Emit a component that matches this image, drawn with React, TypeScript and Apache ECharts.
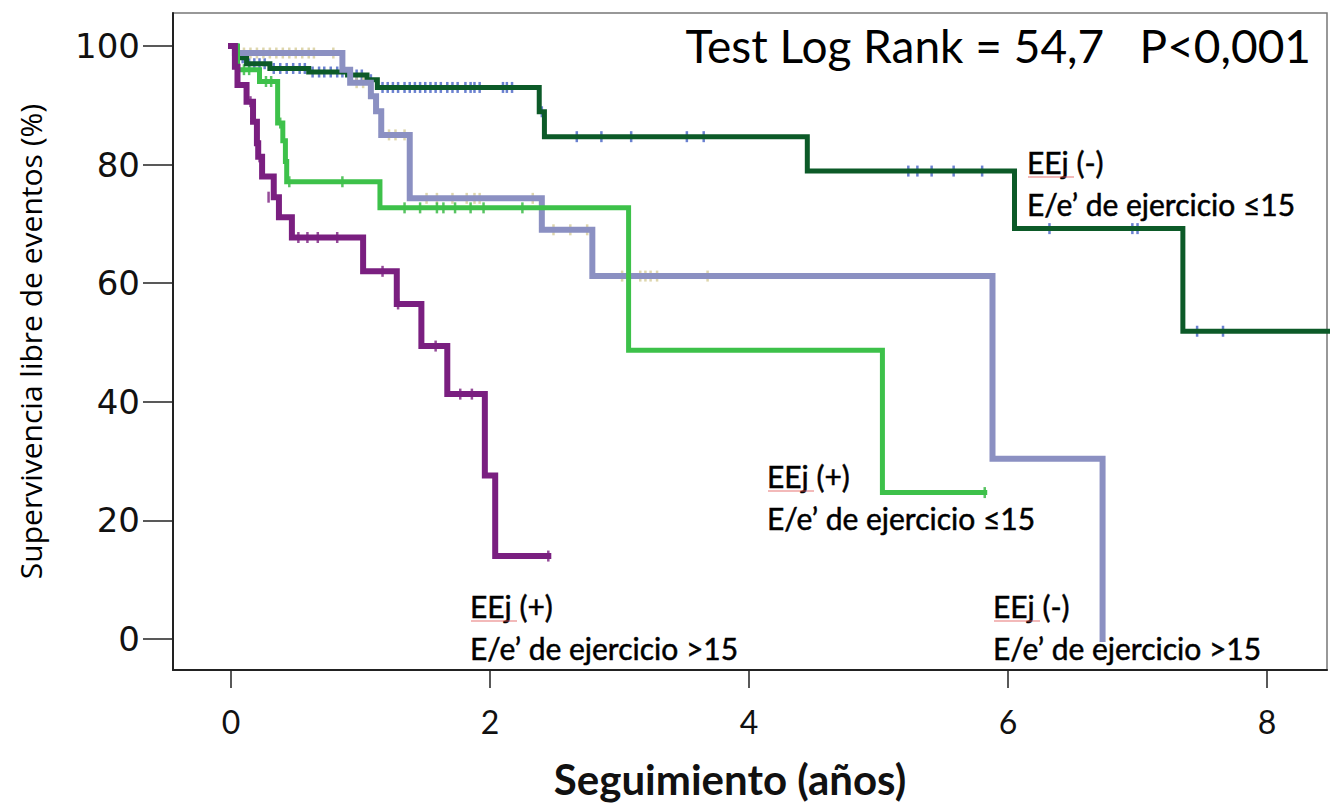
import React, { useEffect, useRef } from "react";
import * as echarts from "echarts";

type Pt = [number, number];

const xTicks = [0, 2, 4, 6, 8];
const yTicks = [0, 20, 40, 60, 80, 100];

// EEj (-) · E/e' de ejercicio ≤15
const negLowSteps: Pt[] = [
  [0, 100], [0.04, 98], [0.12, 97], [0.3, 96.2], [0.6, 95.6], [0.9, 95.1], [1.05, 94.3],
  [1.13, 93], [2.38, 88.9], [2.42, 84.7], [4.45, 78.9], [6.05, 69.2], [7.35, 51.9], [8.47, 51.9],
];
const negLowCensor: Pt[] = [
  [0.02, 98], [0.06, 98], [0.09, 98],
  [0.14, 97], [0.18, 97], [0.22, 97], [0.26, 97],
  [0.33, 96.2], [0.38, 96.2], [0.43, 96.2], [0.48, 96.2], [0.53, 96.2], [0.57, 96.2],
  [0.63, 95.6], [0.68, 95.6], [0.72, 95.6], [0.77, 95.6], [0.82, 95.6], [0.86, 95.6],
  [0.92, 95.1], [0.97, 95.1], [1.01, 95.1], [1.08, 94.3],
  [1.17, 93], [1.21, 93], [1.25, 93], [1.29, 93], [1.34, 93], [1.38, 93], [1.42, 93], [1.46, 93],
  [1.5, 93], [1.54, 93], [1.58, 93], [1.62, 93], [1.67, 93], [1.71, 93], [1.75, 93], [1.81, 93],
  [1.85, 93], [1.88, 93], [1.92, 93], [2.1, 93], [2.13, 93], [2.17, 93],
  [2.4, 88.9],
  [2.67, 84.7], [2.86, 84.7], [3.09, 84.7], [3.52, 84.7], [3.65, 84.7],
  [5.23, 78.9], [5.3, 78.9], [5.41, 78.9], [5.58, 78.9], [5.8, 78.9],
  [6.32, 69.2], [6.96, 69.2], [7.0, 69.2],
  [7.46, 51.9], [7.66, 51.9],
];

// EEj (-) · E/e' de ejercicio >15
const negHighSteps: Pt[] = [
  [0, 100], [0.03, 98.8], [0.86, 96], [0.92, 93.8], [1.08, 91.5], [1.12, 89], [1.16, 85],
  [1.38, 74.3], [2.4, 69], [2.79, 61.2], [5.88, 30.4], [6.73, 0],
];
const negHighCensor: Pt[] = [
  [0.06, 98.8], [0.1, 98.8], [0.15, 98.8], [0.2, 98.8], [0.25, 98.8], [0.3, 98.8], [0.35, 98.8],
  [0.4, 98.8], [0.45, 98.8], [0.5, 98.8], [0.55, 98.8], [0.6, 98.8], [0.64, 98.8], [0.79, 98.8],
  [0.97, 93.8], [1.02, 93.8],
  [1.22, 85], [1.27, 85], [1.34, 85],
  [1.51, 74.3], [1.59, 74.3], [1.71, 74.3], [1.82, 74.3], [1.88, 74.3], [1.92, 74.3], [2.33, 74.3],
  [2.49, 69], [2.62, 69], [2.75, 69],
  [3.02, 61.2], [3.16, 61.2], [3.2, 61.2], [3.24, 61.2], [3.29, 61.2], [3.68, 61.2],
];

// EEj (+) · E/e' de ejercicio ≤15
const posLowSteps: Pt[] = [
  [0, 100], [0.05, 96], [0.22, 94], [0.36, 87], [0.4, 84], [0.42, 80.5], [0.43, 77.1],
  [1.15, 72.7], [3.07, 48.7], [5.03, 24.7], [5.82, 24.7],
];
const posLowCensor: Pt[] = [
  [0.1, 96], [0.14, 96], [0.27, 94], [0.31, 94], [0.38, 87], [0.45, 77.1], [0.86, 77.1],
  [1.34, 72.7], [1.46, 72.7], [1.59, 72.7], [1.64, 72.7], [1.73, 72.7], [1.85, 72.7], [1.95, 72.7],
  [2.25, 72.7], [5.82, 24.7],
];

// EEj (+) · E/e' de ejercicio >15
const posHighSteps: Pt[] = [
  [0, 100], [0.03, 96.5], [0.05, 93.4], [0.12, 90.6], [0.17, 87.2], [0.2, 83.6], [0.21, 81.3],
  [0.24, 78], [0.33, 74.5], [0.37, 71.1], [0.47, 67.7], [1.02, 62], [1.28, 56.5], [1.47, 49.4],
  [1.67, 41.3], [1.96, 27.6], [2.04, 14], [2.45, 14],
];
const posHighCensor: Pt[] = [
  [0.15, 90.6], [0.22, 81.3], [0.29, 74.5], [0.52, 67.7], [0.59, 67.7], [0.67, 67.7], [0.82, 67.7],
  [1.17, 62], [1.29, 56.5], [1.58, 49.4], [1.77, 41.3], [1.86, 41.3], [2.45, 14],
];

const annotations = [
  { l1: "EEj (-)", l2: "E/e\u2019 de ejercicio \u226415", x: 1027, y: 162 },
  { l1: "EEj (+)", l2: "E/e\u2019 de ejercicio \u226415", x: 767, y: 476 },
  { l1: "EEj (+)", l2: "E/e\u2019 de ejercicio >15", x: 470, y: 606 },
  { l1: "EEj (-)", l2: "E/e\u2019 de ejercicio >15", x: 993, y: 606 },
];

const C = {
  darkGreen: "#0c5a28",
  blue: "#4562c4",
  lavender: "#8b90c2",
  beige: "#d6cc98",
  green: "#3dc14a",
  greenMark: "#2fb53c",
  purple: "#7a1f80",
};

const FONT = "Lato, 'Open Sans', sans-serif";

function lineSeries(data: Pt[], color: string, width: number) {
  return {
    type: "line",
    step: "end",
    data,
    symbol: "none",
    showSymbol: false,
    lineStyle: { color, width, cap: "square", join: "miter" },
    silent: true,
  };
}

function censorSeries(data: Pt[], color: string) {
  return {
    type: "scatter",
    data,
    symbol: "rect",
    symbolSize: [2.5, 11],
    itemStyle: { color },
    silent: true,
  };
}

export default function App() {
  const ref = useRef<HTMLDivElement>(null);
  useEffect(() => {
    if (!ref.current) return;
    const chart = echarts.init(ref.current, undefined, { renderer: "svg" });
    const graphic: any[] = [
      {
        type: "text",
        x: 1311,
        y: 45,
        style: {
          text: "Test Log Rank = 54,7   P<0,001",
          font: `normal 46px ${FONT}`,
          fill: "#000",
          align: "right",
          verticalAlign: "middle",
        },
      },
    ];
    annotations.forEach((a) => {
      graphic.push({
        type: "text",
        x: a.x,
        y: a.y,
        style: { text: a.l1, font: `normal 30px ${FONT}`, fill: "#000", align: "left", verticalAlign: "middle", stroke: "#000", lineWidth: 0.5 },
      });
      graphic.push({
        type: "text",
        x: a.x,
        y: a.y + 42,
        style: { text: a.l2, font: `normal 30px ${FONT}`, fill: "#000", align: "left", verticalAlign: "middle", stroke: "#000", lineWidth: 0.5 },
      });
      graphic.push({
        type: "line",
        shape: { x1: a.x + 1, y1: a.y + 15, x2: a.x + 47, y2: a.y + 15 },
        style: { stroke: "#e05050", lineWidth: 1, opacity: 0.8 },
      });
    });

    chart.setOption({
      animation: false,
      backgroundColor: "#ffffff",
      grid: {
        left: 173,
        top: 13,
        right: 3,
        bottom: 133,
        show: true,
        borderColor: "#777",
        borderWidth: 1.5,
      },
      xAxis: {
        type: "value",
        min: -0.448,
        max: 8.463,
        name: "Seguimiento (a\u00f1os)",
        nameLocation: "middle",
        nameGap: 88,
        nameTextStyle: {
          fontFamily: FONT,
          fontWeight: "bold",
          fontSize: 42,
          color: "#111",
          padding: [0, 40, 0, 0],
        },
        axisLine: { show: true, onZero: false, lineStyle: { color: "#222", width: 2 } },
        axisTick: { show: true, length: 18, customValues: xTicks, lineStyle: { color: "#222", width: 1.5 } },
        axisLabel: { customValues: xTicks, margin: 35, fontFamily: FONT, fontSize: 32, color: "#111" },
        splitLine: { show: false },
      },
      yAxis: {
        type: "value",
        min: -5.21,
        max: 105.55,
        name: "Supervivencia libre de eventos (%)",
        nameLocation: "middle",
        nameRotate: 90,
        nameGap: 128,
        nameTextStyle: { fontFamily: "'Open Sans', sans-serif", fontSize: 30, color: "#000" },
        axisLine: { show: true, onZero: false, lineStyle: { color: "#222", width: 2 } },
        axisTick: { show: true, length: 30, customValues: yTicks, lineStyle: { color: "#222", width: 1.5 } },
        axisLabel: {
          customValues: yTicks,
          margin: 33,
          fontFamily: "'DejaVu Sans', sans-serif",
          fontSize: 34,
          color: "#111",
        },
        splitLine: { show: false },
      },
      graphic,
      series: [
        lineSeries(negLowSteps, C.darkGreen, 5),
        lineSeries(negHighSteps, C.lavender, 6),
        lineSeries(posLowSteps, C.green, 5),
        lineSeries(posHighSteps, C.purple, 6),
        censorSeries(negLowCensor, C.blue),
        censorSeries(negHighCensor, C.beige),
        censorSeries(posLowCensor, C.greenMark),
        censorSeries(posHighCensor, C.purple),
      ],
    });
    return () => chart.dispose();
  }, []);
  return (
    <div
      ref={ref}
      style={{ position: "fixed", left: 0, top: 0, width: 1330, height: 805, background: "#fff" }}
    />
  );
}
